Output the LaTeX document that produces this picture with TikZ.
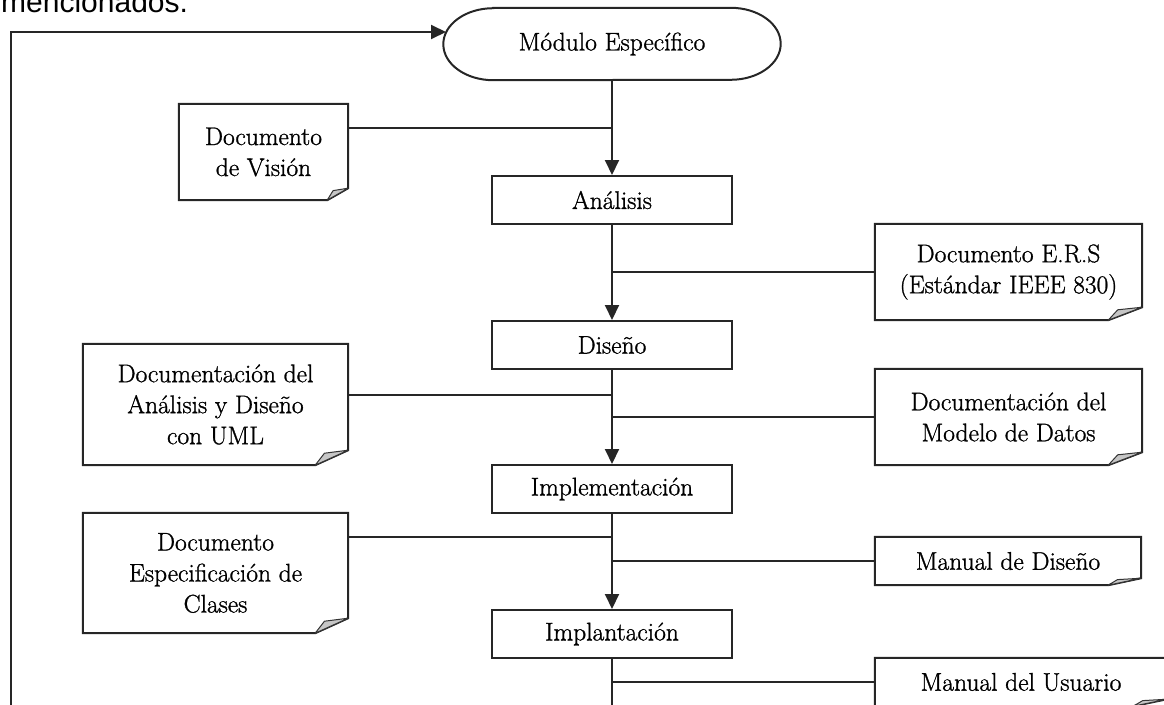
\documentclass[tikz,border=0pt]{standalone}
\usepackage{fontspec}
\newfontfamily\topsans{Liberation Sans}
\newfontfamily\boxfont{Latin Modern Roman}[FakeBold=1.1]
\usetikzlibrary{arrows.meta}
\tikzset{
  ln/.style={draw=black!85, line width=2pt},
  arr/.style={ln, -{Triangle[width=14pt,length=15pt]}},
  txt/.style={font=\boxfont\fontsize{25.5}{31}\selectfont, align=center, inner sep=0pt, text=black},
  procbox/.style={txt, draw=black!85, line width=2pt, minimum width=240pt, minimum height=48pt},
  flap/.style={draw=black!80, line width=1pt, fill=gray!45, line join=round},
}
\newcommand\mkdoc[3]{%
  \draw[ln, line join=miter] (#1.north west) -- (#1.north east) -- ([yshift=#3pt]#1.south east)
     -- ([xshift=-#2pt]#1.south east) -- (#1.south west) -- cycle;
  \draw[flap] ([xshift=-#2pt]#1.south east) -- ([xshift=-0.72*#2pt, yshift=0.8*#3pt]#1.south east)
     -- ([yshift=#3pt]#1.south east) -- cycle;
}
\begin{document}
\begin{tikzpicture}[x=1pt,y=-1pt]
\useasboundingbox (0,0) rectangle (1164,704);
\clip (0,0) rectangle (1164,704);

\node[anchor=base west, font=\topsans\fontsize{30}{32}\selectfont, inner sep=0pt] (top) at (1,12.5) {mencionados.};

% start / terminal
\node[txt, minimum width=337pt, minimum height=72pt] (mod) at (612,44) {Módulo Específico};
\draw[ln] ([xshift=50pt]mod.north west) -- ([xshift=-50pt]mod.north east)
  arc[start angle=90,end angle=-90,x radius=50pt,y radius=36pt]
  -- ([xshift=50pt]mod.south west)
  arc[start angle=270,end angle=90,x radius=50pt,y radius=36pt] -- cycle;

% process boxes
\node[procbox] (ana)  at (612,200) {Análisis};
\node[procbox] (dis)  at (612,345) {Diseño};
\node[procbox] (imp)  at (612,489) {Implementación};
\node[procbox] (impl) at (612,634) {Implantación};

% documents
\node[txt, minimum width=169pt, minimum height=96pt]  (vis) at (263.5,152) {Documento\\de Visión};
\node[txt, minimum width=267pt, minimum height=96pt]  (ers) at (1008.5,272) {Documento E.R.S\\(Estándar IEEE 830)};
\node[txt, minimum width=265pt, minimum height=121pt] (uml) at (215.5,404.5) {Documentación del\\Análisis y Diseño\\con UML};
\node[txt, minimum width=267pt, minimum height=96pt]  (dat) at (1008.5,417) {Documentación del\\Modelo de Datos};
\node[txt, minimum width=265pt, minimum height=120pt] (esp) at (215.5,573)  {Documento\\Especificación de\\Clases};
\node[txt, minimum width=266pt, minimum height=48pt]  (mdi) at (1008,561) {Manual de Diseño};
\node[txt, minimum width=292pt, minimum height=48pt]  (mus) at (1021,682) {Manual del Usuario};

\mkdoc{vis}{21}{12}
\mkdoc{ers}{34}{13}
\mkdoc{uml}{33}{15}
\mkdoc{dat}{34}{13}
\mkdoc{esp}{33}{15}
\mkdoc{mdi}{33}{7}
\mkdoc{mus}{34}{7}

% main flow
\draw[arr] (mod) -- (ana);
\draw[arr] (ana) -- (dis);
\draw[arr] (dis) -- (imp);
\draw[arr] (imp) -- (impl);

% loop back
\coordinate (lb) at (11,720);
\coordinate (lt) at (11,32);
\coordinate (lin) at (446,32);
\draw[arr] (lb) -- (lt) -- (lin);
\draw[ln] (impl.south) -- (impl.south |- lb);

% left connectors
\coordinate (jv) at (612,128);
\coordinate (ju) at (612,395);
\coordinate (je) at (612,537);
\draw[ln] (vis.east |- jv) -- (jv);
\draw[ln] (uml.east |- ju) -- (ju);
\draw[ln] (esp.east |- je) -- (je);

% right connectors
\draw[ln] (ers.west) -- (ers.west -| ana.center);
\draw[ln] (dat.west) -- (dat.west -| ana.center);
\draw[ln] (mdi.west) -- (mdi.west -| ana.center);
\draw[ln] (mus.west) -- (mus.west -| ana.center);
\end{tikzpicture}
\end{document}
